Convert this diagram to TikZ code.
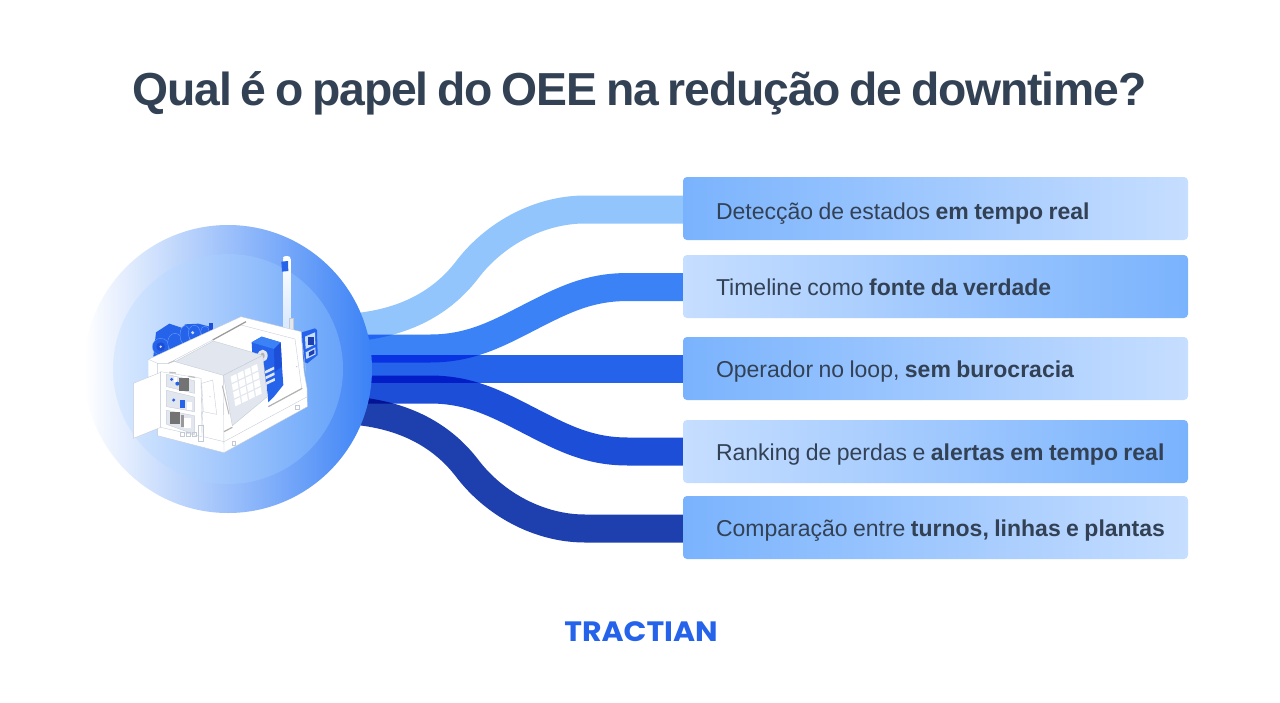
\documentclass[tikz,border=0pt]{standalone}
\usepackage{fontspec}
\setmainfont[WordSpace=0.85]{Liberation Sans}
\newfontfamily\titlefont[LetterSpace=-2.5,WordSpace=0.75]{Liberation Sans}
\newfontfamily\logofont{Poppins}
\usetikzlibrary{backgrounds}
\usetikzlibrary{calc}
\definecolor{inkc}{HTML}{334155}
\definecolor{rib1}{HTML}{93C5FD}
\definecolor{rib2}{HTML}{3B82F6}
\definecolor{rib3}{HTML}{2563EB}
\definecolor{rib4}{HTML}{1D4ED8}
\definecolor{rib5}{HTML}{1E40AF}
\definecolor{darkc}{HTML}{7AB3FD}
\definecolor{paleb}{HTML}{C6DEFF}
\definecolor{linec}{HTML}{C3CAD6}
\definecolor{greyc}{HTML}{E2E7EF}
\newcommand*{\boxw}{505}
\newcommand*{\boxh}{63}
\newcommand*{\lab}[1]{\makebox[439pt][l]{#1}}
\tikzset{
    panel/.style   = {rounded corners=4, minimum width=\boxw, minimum height=\boxh, inner xsep=33, inner ysep=0, text height=22, text depth=5, text=inkc, font=\fontsize{23}{28}\selectfont},
    panellr/.style = {panel, left color=darkc, right color=paleb},
    panelrl/.style = {panel, left color=paleb, right color=darkc},
    ribbon/.style  = {line width=28, blend mode=multiply},
    part/.style    = {fill=white, draw=linec, line width=0.35},
    bluep/.style   = {fill=rib3, draw=rib2!70!white, line width=0.3},
}
\begin{document}
\begin{tikzpicture}[x=1pt, y=-1pt]
    \useasboundingbox (0,0) rectangle (1280,702);
    \node [inner sep=0, text=inkc, font=\fontsize{46.3}{54}\titlefont\bfseries] (title) at (639.5,93) {Qual é o papel do OEE na redução de downtime?};

    % hub
    \node [circle, minimum size=288, inner sep=0, left color=white, middle color=rib1!75!paleb, right color=rib2] (hub) at (228,369) {};
    \node [circle, minimum size=230, inner sep=0, left color=paleb!65!white, middle color=rib1, right color=rib1!50!rib2] (hubin) at (228,369) {};

    % boxes
    \node [panellr, text height=26] (det) at (935.5,208.5) {\lab{Detecção de estados \textbf{em tempo real}}};
    \node [panelrl] (tim) at (935.5,286.5) {\lab{Timeline como \textbf{fonte da verdade}}};
    \node [panellr] (ope) at (935.5,368.5) {\lab{Operador no loop, \textbf{sem burocracia}}};
    \node [panelrl] (ran) at (935.5,451.5) {\lab{Ranking de perdas e \textbf{alertas em tempo real}}};
    \node [panellr] (com) at (935.5,527.5) {\lab{Comparação entre \textbf{turnos, linhas e plantas}}};

    \node [inner sep=0, text=rib3, font=\fontsize{28}{32}\logofont\bfseries] (logo) at (641,632) {\scalebox{1.07}[1]{TRACTIAN}};

    % ribbons
    \coordinate (hub1) at (345,328);
    \coordinate (hub2) at (345,348.5);
    \coordinate (hub3) at (345,369);
    \coordinate (hub4) at (345,389.5);
    \coordinate (hub5) at (345,410);
    \begin{pgfonlayer}{background}
        \fill [white] (0,0) rectangle (1280,702);
        \draw [ribbon, draw=rib1] (hub1) .. controls (400,325) and (440,305) .. (467,270) .. controls (495,233) and (540,209.5) .. (585,209.5) -- ($(det.west)+(0,1)$);
        \draw [ribbon, draw=rib2] (hub2) -- (430,348.5) .. controls (470,348.5) and (497,334) .. (530,317) .. controls (565,299) and (590,287) .. (628,287) -- ($(tim.west)+(0,0.5)$);
        \draw [ribbon, draw=rib3] (hub3) -- ($(ope.west)+(0,0.5)$);
        \draw [ribbon, draw=rib4] (hub4) -- (430,389.5) .. controls (470,389.5) and (497,404) .. (530,421) .. controls (565,439) and (590,451.5) .. (628,451.5) -- (ran.west);
        \draw [ribbon, draw=rib5] (hub5) .. controls (400,413) and (440,433) .. (467,468) .. controls (495,505) and (540,528.5) .. (585,528.5) -- ($(com.west)+(0,1)$);
    \end{pgfonlayer}

    % machine
    \begin{scope}[shift={(70,215)}, scale=1/3]
        % tower
        \draw [draw=none, top color=white, bottom color=paleb!70!white] (640,130) -- (661,130) -- (661,345) -- (640,345) -- cycle;
        \fill [white] (650,128) ellipse (11 and 5);
        \fill [rib3] (634,140) -- (654,138) -- (655,168) -- (636,170) -- cycle;
        \draw [part, fill=greyc] (658,310) rectangle (670,347);
        % control panel
        \fill [rib3] (696,352) -- (735,340) -- (741,345) -- (743,420) -- (712,445) -- (700,440) -- cycle;
        \fill [paleb] (705,365) -- (735,352) -- (736,388) -- (707,402) -- cycle;
        \fill [rib5] (715,365) rectangle (731,390);
        \fill [paleb] (707,412) -- (736,397) -- (737,418) -- (709,432) -- cycle;
        \fill [rib5] (717,412) -- (733,403) -- (733,416) -- (717,424) -- cycle;
        % motor
        \fill [rib3] (258,352) -- (298,326) -- (340,340) -- (345,328) -- (385,326) -- (420,335) -- (430,345) -- (415,362) -- (280,437) -- (250,425) -- cycle;
        \draw [bluep] (272,395) circle (25);
        \fill [rib4] (272,395) circle (13);
        \fill [paleb] (272,395) circle (4);
        \draw [bluep] (315,383) ellipse (22 and 28);
        \draw [bluep] (345,360) ellipse (15 and 28);
        \draw [bluep] (373,355) ellipse (18 and 24);
        \fill [paleb] (368,353) circle (5);
        \draw [bluep] (405,350) ellipse (13 and 17);
        \fill [rib4] (416,323) rectangle (428,345);
        % body
        \fill [white] (235,433) -- (513,305) -- (693,350) -- (702,470) -- (711,520) -- (712,575) -- (462,713) -- (263,662) -- (263,640) -- (235,480) -- cycle;
        \draw [part, fill=none] (235,433) -- (513,305) -- (693,350) -- (702,470) -- (711,520) -- (712,575) -- (462,713) -- (263,662) -- (263,445) -- cycle;
        \draw [part, fill=none] (263,445) -- (295,445) -- (513,330) -- (675,372) -- (695,520) -- (595,575);
        \draw [part, fill=none] (462,713) -- (460,480);
        \draw [part, fill=none] (393,490) -- (400,665) -- (462,680) -- (712,545);
        \draw [part, fill=none] (395,505) -- (428,495) -- (440,598) -- (400,590) -- cycle;
        \fill [linec] (420,545) circle (2) (680,455) circle (2);
        \draw [line width=1.2, draw=gray!80] (428,375) -- (528,320);
        \draw [line width=1.2, draw=gray!60] (595,575) -- (697,520);
        \draw [line width=1.2, draw=gray!60] (462,650) -- (487,637);
        \draw [line width=0.9, draw=gray!50] (295,445) -- (315,437);
        \draw [part, fill=none] (697,385) -- (708,470);
        \draw [part, fill=none] (486,680) rectangle (496,692);
        \draw [part, fill=none] (677,570) rectangle (689,582);
        % headstock
        \fill [rib3] (545,382) -- (575,365) -- (632,382) -- (636,455) -- (640,510) -- (612,545) -- (595,562) -- (590,510) -- (550,470) -- cycle;
        \fill [rib2] (545,382) -- (575,365) -- (632,382) -- (612,402) -- cycle;
        \fill [rib4] (632,382) -- (636,455) -- (614,470) -- (612,402) -- cycle;
        \fill [greyc] (578,422) ellipse (15 and 18);
        \fill [gray!60] (578,422) ellipse (6 and 9);
        \fill [greyc] (585,468) -- (612,455) -- (613,463) -- (586,476) -- cycle;
        \fill [greyc] (586,485) -- (613,472) -- (614,480) -- (587,493) -- cycle;
        \fill [greyc] (587,502) -- (614,489) -- (615,497) -- (588,510) -- cycle;
        % door
        \draw [part, fill=greyc] (315,440) -- (430,378) -- (578,421) -- (460,481) -- cycle;
        \draw [part, fill=greyc] (460,481) -- (578,421) -- (592,545) -- (487,632) -- cycle;
        \foreach \col in {0,1,2,3} {
            \foreach \row in {0,1,2,3} {
                \fill [white] (482+\col*20.7+\row*3.7,485-\col*10+\row*23.2) -- ++(17,-8) -- ++(3,19) -- ++(-17,8) -- cycle;
            }
        }
        \draw [line width=1, draw=gray!55] (457,512) -- (477,598);
        % cabinet
        \draw [part] (272,470) -- (393,490) -- (396,665) -- (272,637) -- cycle;
        \fill [gray!50] (298,470) -- (318,472) -- (318,476) -- (298,474) -- cycle;
        \fill [gray!50] (355,482) -- (375,485) -- (375,489) -- (355,486) -- cycle;
        \draw [part, fill=greyc] (290,478) -- (373,497) -- (373,535) -- (290,515) -- cycle;
        \draw [part, fill=greyc] (290,526) -- (373,546) -- (373,590) -- (290,575) -- cycle;
        \draw [part, fill=greyc] (290,586) -- (373,602) -- (373,658) -- (290,628) -- cycle;
        \fill [gray!90!black] (328,490) rectangle (356,527);
        \fill [rib3] (322,506) circle (6);
        \fill [rib3] (305,493) circle (5);
        \fill [white] (312,487) rectangle (322,500);
        \fill [rib3] (330,556) rectangle (346,578);
        \fill [rib3] (311,555) circle (5);
        \fill [white] (350,560) rectangle (366,585);
        \fill [gray!90!black] (300,592) rectangle (330,628);
        \fill [white] (342,608) rectangle (364,640);
        \fill [gray!80] (332,600) rectangle (342,635);
        % open door
        \draw [part] (190,505) -- (272,472) -- (272,637) -- (190,670) -- cycle;
        % vents
        \foreach \vent in {332,350,368} {
            \draw [part, fill=none] (\vent,651) rectangle ++(12,12);
        }
        \draw [part, fill=none] (386,630) rectangle (400,678);
    \end{scope}
\end{tikzpicture}
\end{document}
